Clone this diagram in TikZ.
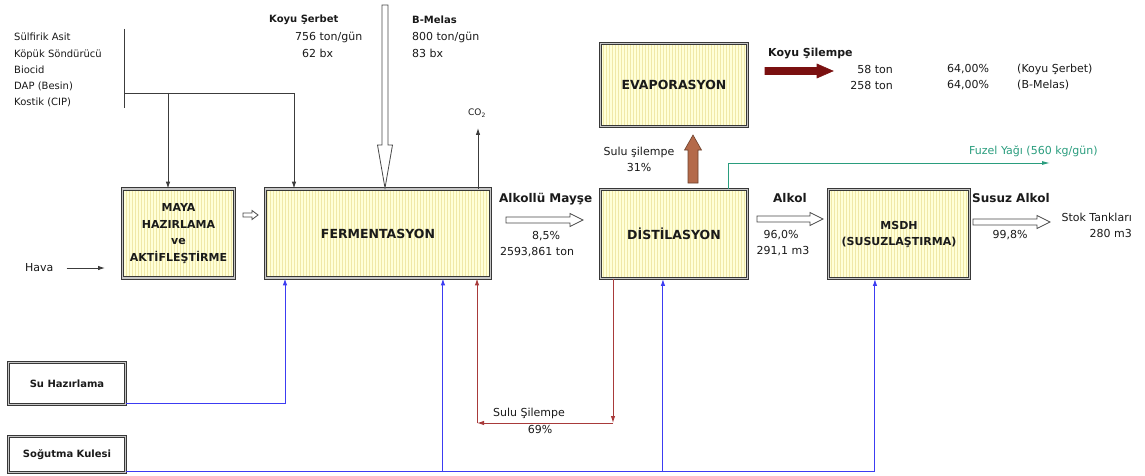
\documentclass[tikz,border=0pt]{standalone}
\usepackage{fontspec}
\setmainfont{DejaVu Sans}
\usetikzlibrary{arrows.meta,calc,patterns}
\definecolor{Ink}{HTML}{1A1A1A}
\definecolor{Frame}{HTML}{383838}
\definecolor{BoxFill}{HTML}{FFFFD8}
\definecolor{Stripe}{HTML}{F0E8A8}
\definecolor{Water}{HTML}{3C3CF2}
\definecolor{Vinasse}{HTML}{A83A3A}
\definecolor{DarkVinasse}{HTML}{7A1010}
\definecolor{Brown}{HTML}{B46A4A}
\definecolor{Fusel}{HTML}{2A9D7E}
\tikzset{
  unit/.style={draw=Frame,double=gray!45,double distance=1.5pt,line width=0.9pt,preaction={fill=BoxFill},pattern=vertical lines,pattern color=Stripe,align=center,font=\fontsize{12.5}{16.5}\selectfont\bfseries,text=Ink},
  aux/.style={draw=Frame,double=gray!45,double distance=1.5pt,line width=0.9pt,fill=white,font=\fontsize{10}{12}\selectfont\bfseries,text=Ink},
  lbl/.style={font=\fontsize{11}{16}\selectfont,text=Ink,inner sep=0pt},
  head/.style={font=\fontsize{12}{14}\selectfont\bfseries,text=Ink,inner sep=0pt},
  feedline/.style={draw=Ink!85,line width=0.9pt},
  feed/.style={feedline,-{Latex[length=7pt,width=4.5pt]}},
  water/.style={draw=Water,line width=1pt},
  waterin/.style={water,-{Latex[length=7pt,width=4.5pt]}},
  vinasse/.style={draw=Vinasse,line width=1pt,-{Latex[length=7pt,width=4.5pt]}},
  fusel/.style={draw=Fusel,line width=0.9pt,-{Latex[length=8pt,width=4pt]}},
  hollow/.style={draw=Ink!80,fill=white,line width=0.8pt},
  brownarrow/.style={draw=Brown!60!black,fill=Brown,line width=0.6pt},
  darkarrow/.style={draw=DarkVinasse,fill=DarkVinasse,line width=0.6pt}
}
% wide flow arrows: style, x tail, x tip, y, half shaft, half head, head length
\newcommand{\flowright}[7]{%
  \draw[#1] ({#2},{#4-#5}) -- ({#3-#7},{#4-#5}) -- ({#3-#7},{#4-#6}) -- ({#3},{#4})
    -- ({#3-#7},{#4+#6}) -- ({#3-#7},{#4+#5}) -- ({#2},{#4+#5}) -- cycle;}
% style, x, y tail, y tip, half shaft, half head, head length (negative points up)
\newcommand{\flowvert}[7]{%
  \draw[#1] ({#2-#5},{#3}) -- ({#2-#5},{#4-(#7)}) -- ({#2-#6},{#4-(#7)}) -- ({#2},{#4})
    -- ({#2+#6},{#4-(#7)}) -- ({#2+#5},{#4-(#7)}) -- ({#2+#5},{#3}) -- cycle;}

\begin{document}
\begin{tikzpicture}[x=1pt,y=-1pt]
  \useasboundingbox[fill=white] (0,0) rectangle (1145,476);

  % process units
  \node[unit,minimum width=112,minimum height=89,font=\fontsize{11}{16.7}\selectfont\bfseries] (maya) at (178.5,233.5) {MAYA\\HAZIRLAMA\\ve\\AKTİFLEŞTİRME};
  \node[unit,minimum width=225,minimum height=89] (ferm) at (378,233.5) {FERMENTASYON};
  \node[unit,minimum width=147,minimum height=89] (dist) at (674,234) {DİSTİLASYON};
  \node[unit,minimum width=141,minimum height=89,font=\fontsize{11}{16}\selectfont\bfseries] (msdh) at (899,234) {MSDH\\(SUSUZLAŞTIRMA)};
  \node[unit,minimum width=147,minimum height=83] (evap) at (674,85) {EVAPORASYON};
  \node[aux,minimum width=117,minimum height=42] (suhaz) at (67,383.5) {Su Hazırlama};
  \node[aux,minimum width=117,minimum height=36] (sogut) at (67,454.5) {Soğutma Kulesi};

  % feeds
  \node[lbl,font=\fontsize{10}{16.1}\selectfont,align=left,anchor=west] (chem) at (14,70) {Sülfirik Asit\\Köpük Söndürücü\\Biocid\\DAP (Besin)\\Kostik (CIP)};
  \node[head,font=\fontsize{10}{12}\selectfont\bfseries,anchor=west] (ks) at (269,20) {Koyu Şerbet};
  \node[lbl,anchor=west] (ksrate) at (295,37) {756 ton/gün};
  \node[lbl,anchor=west] (ksbx) at (302,53) {62 bx};
  \node[head,font=\fontsize{10}{12}\selectfont\bfseries,anchor=west] (bm) at (412,20) {B-Melas};
  \node[lbl,anchor=west] (bmrate) at (412,37) {800 ton/gün};
  \node[lbl,anchor=west] (bmbx) at (412,53) {83 bx};
  \node[lbl,font=\fontsize{9}{11}\selectfont] (co2) at (477,113) {CO\textsubscript{2}};
  \node[lbl,anchor=west] (hava) at (25,268) {Hava};

  \coordinate (bt) at (124,29);
  \coordinate (bb) at (124,108);
  \coordinate (bj) at (124,93);
  \coordinate (jm) at (168,93);
  \coordinate (jf) at (294,93);
  \draw[feedline] (bt) -- (bb);
  \draw[feed] (bj) -- (jf) -- (jf |- ferm.north);
  \draw[feed] (jm) -- (jm |- maya.north);
  \coordinate (havaend) at (105,268);
  \draw[feed] ([xshift=13pt]hava.east) -- (havaend);
  \coordinate (co2tip) at (478,128);
  \draw[feed] (co2tip |- ferm.north) -- (co2tip);
  \flowvert{hollow}{385}{5}{188}{3}{7.5}{43}
  \flowright{hollow}{243}{258}{215}{2}{4.5}{6}

  % products
  \node[head,anchor=west] (mayse) at (499,199) {Alkollü Mayşe};
  \node[lbl] (mayse1) at (546,236) {8,5\%};
  \node[lbl] (mayse2) at (537,252) {2593,861 ton};
  \flowright{hollow}{506}{583}{220}{3}{6.5}{13}
  \node[head,anchor=west] (alk) at (773,198) {Alkol};
  \node[lbl] (alk1) at (781,235) {96,0\%};
  \node[lbl] (alk2) at (783,251) {291,1 m3};
  \flowright{hollow}{757}{823}{219}{3}{6.5}{13}
  \node[head,anchor=west] (susuz) at (972,198) {Susuz Alkol};
  \node[lbl] (susuz1) at (1010,235) {99,8\%};
  \node[lbl,anchor=east] (stok) at (1132,217) {Stok Tankları};
  \node[lbl,anchor=east] (stok2) at (1132,233) {280 m3};
  \flowright{hollow}{973}{1050}{222}{3}{6.5}{13}

  % stillage
  \node[lbl,align=center] (sulu) at (639,159) {Sulu şilempe\\31\%};
  \flowvert{brownarrow}{693}{183}{135}{5}{8.5}{-15}
  \node[head,font=\fontsize{11}{13}\selectfont\bfseries,anchor=west] (kslm) at (768,54) {Koyu Şilempe};
  \flowright{darkarrow}{765}{833}{71}{3.5}{7}{16}
  \node[lbl,anchor=east] (t1) at (893,69) {58 ton};
  \node[lbl,anchor=east] (t2) at (893,85) {258 ton};
  \node[lbl,anchor=west] (p1) at (947,69) {64,00\%};
  \node[lbl,anchor=west] (p2) at (947,85) {64,00\%};
  \node[lbl,anchor=west] (s1) at (1017,69) {(Koyu Şerbet)};
  \node[lbl,anchor=west] (s2) at (1017,85) {(B-Melas)};

  \coordinate (vr) at (613,423);
  \coordinate (vl) at (477,423);
  \draw[vinasse] (vr |- dist.south) -- (vr);
  \draw[vinasse] (vr) -- (vl);
  \draw[vinasse] (vl) -- (vl |- ferm.south);
  \node[lbl] (sulu2) at (529,413) {Sulu Şilempe};
  \node[lbl] (sulu3) at (540,429) {69\%};

  % fusel oil
  \coordinate (fz) at (728,163);
  \coordinate (fzend) at (1050,163);
  \draw[fusel] (fz |- dist.north) -- (fz) -- (fzend);
  \node[lbl,text=Fusel,anchor=west] (fzl) at (969,151) {Fuzel Yağı (560 kg/gün)};

  % water
  \coordinate (wf) at (285,403);
  \draw[waterin] ([yshift=1.5pt]suhaz.south east) -| (ferm.south -| wf);
  \path ([yshift=1.5pt]sogut.south east) coordinate (cw0)
    ++(317,0) coordinate (cw1) ++(220,0) coordinate (cw2) ++(212,0) coordinate (cw3);
  \draw[water] (cw0) -- (cw3);
  \draw[waterin] (cw1) -- (cw1 |- ferm.south);
  \draw[waterin] (cw2) -- (cw2 |- dist.south);
  \draw[waterin] (cw3) -- (cw3 |- msdh.south);
\end{tikzpicture}
\end{document}
